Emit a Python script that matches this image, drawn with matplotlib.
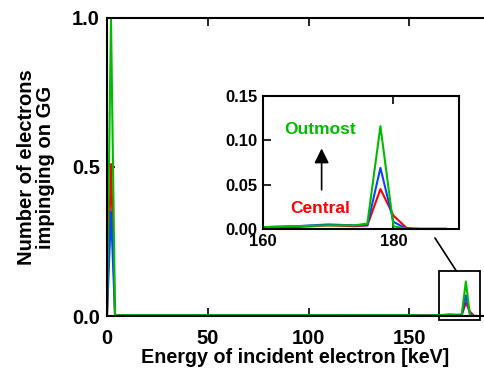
import matplotlib.pyplot as plt
from matplotlib.patches import Rectangle, ConnectionPatch

plt.rcParams['font.family'] = ['Liberation Sans', 'DejaVu Sans']
plt.rcParams['font.weight'] = 'bold'

# energy bins [keV] and normalised counts per electrode position
energy = [0, 2, 4, 10, 50, 100, 150, 160, 165, 170, 174, 176, 178, 180, 182, 184, 188]
central = [0, 0.51, 0.003, 0.003, 0.003, 0.003, 0.002, 0.002, 0.002, 0.004, 0.003, 0.004, 0.045, 0.015, 0.001, 0, 0]
middle = [0, 0.35, 0.003, 0.003, 0.003, 0.003, 0.002, 0.002, 0.003, 0.005, 0.004, 0.004, 0.069, 0.008, 0.0, 0, 0]
outmost = [0, 1.0, 0.003, 0.003, 0.003, 0.003, 0.003, 0.002, 0.003, 0.004, 0.004, 0.006, 0.116, 0.003, 0.0, 0, 0]

colors = ['#ff0000', '#1040ff', '#00bb00']
series = [central, middle, outmost]

fig = plt.figure(figsize=(4.84, 3.74), dpi=100)
ax = fig.add_axes([0.221, 0.155, 0.779, 0.797])
for ys, c in zip(series, colors):
    ax.plot(energy, ys, color=c, lw=1.5)
ax.set_xlim(0, 187)
ax.set_ylim(0, 1.0)
ax.set_xticks([0, 50, 100, 150])
ax.set_yticks([0.0, 0.5, 1.0])
ax.set_yticklabels(['0.0', '0.5', '1.0'])
ax.tick_params(direction='in', length=6, width=1.2, labelsize=14.5, pad=5, top=True)
ax.tick_params(axis='x', pad=9)
ax.spines['right'].set_visible(False)
for s in ['left', 'bottom', 'top']:
    ax.spines[s].set_linewidth(1.5)
ax.set_xlabel('Energy of incident electron [keV]', fontsize=14.2, fontweight='bold', labelpad=0)
ax.set_ylabel('Number of electrons\nimpinging on GG', fontsize=14.5, fontweight='bold', labelpad=12,
              linespacing=1.0)

rect = Rectangle((164.8, -0.013), 20.4, 0.164, fill=False, ec='black', lw=1.3, clip_on=False)
ax.add_patch(rect)

ins = fig.add_axes([0.543, 0.388, 0.405, 0.355])
for ys, c in zip(series, colors):
    ins.plot(energy, ys, color=c, lw=1.5)
ins.set_xlim(160, 190)
ins.set_ylim(0, 0.15)
ins.set_xticks([160, 180])
ins.set_yticks([0.0, 0.05, 0.10, 0.15])
ins.set_yticklabels(['0.00', '0.05', '0.10', '0.15'])
ins.tick_params(direction='in', length=6, width=1.2, labelsize=12, pad=4, top=True)
for s in ins.spines.values():
    s.set_linewidth(1.5)
ins.text(168.8, 0.112, 'Outmost', color='#00bb00', fontsize=12.5, fontweight='bold', ha='center', va='center')
ins.text(168.8, 0.0235, 'Central', color='#ff0000', fontsize=12.5, fontweight='bold', ha='center', va='center')
ins.annotate('', xy=(169.0, 0.094), xytext=(169.0, 0.041),
             arrowprops=dict(arrowstyle='-|>', color='black', lw=1.2, mutation_scale=22))

con = ConnectionPatch(xyA=(0.878, -0.068), coordsA=ins.transAxes,
                      xyB=(173.3, 0.151), coordsB=ax.transData, color='black', lw=1.2)
fig.add_artist(con)

fig.savefig('out.png', dpi=100)
